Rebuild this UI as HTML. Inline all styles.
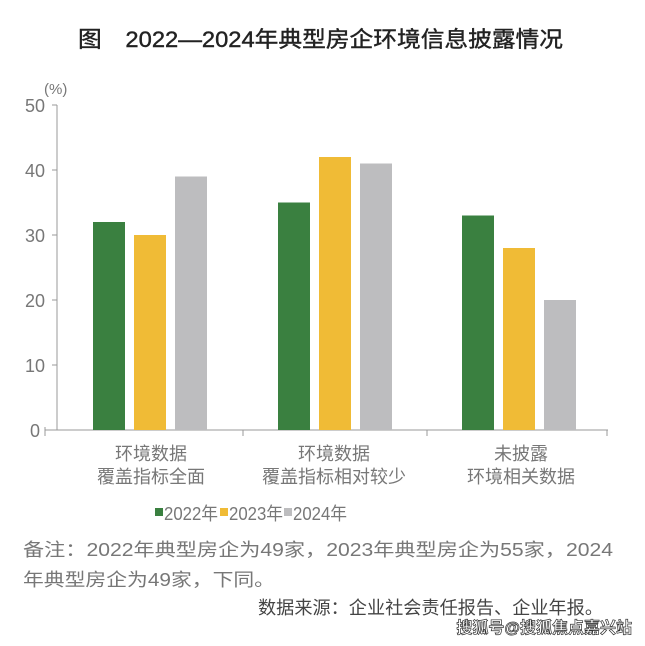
<!DOCTYPE html>
<html><head><meta charset="utf-8"><style>
body{margin:0;background:#fff;}
svg text{font-family:"Liberation Sans","Noto Sans CJK SC",sans-serif;}
</style></head><body>
<svg width="645" height="641" xmlns="http://www.w3.org/2000/svg">
<rect width="645" height="641" fill="#fff"/>
<text x="78" y="47" font-size="22" textLength="485" lengthAdjust="spacingAndGlyphs" fill="#222" stroke="#222" stroke-width="0.4" font-family="'Liberation Serif','Noto Serif CJK SC',serif">图　2022—2024年典型房企环境信息披露情况</text>
<text x="44" y="94" font-size="15" fill="#777">(%)</text>
<g font-size="18" fill="#777" text-anchor="end">
<text x="45" y="112">50</text><text x="45" y="177">40</text><text x="45" y="242">30</text><text x="45" y="307">20</text><text x="45" y="372">10</text><text x="40" y="437">0</text>
</g>
<g stroke="#999" stroke-width="1">
<line x1="57" y1="105" x2="57" y2="430"/>
<line x1="52" y1="105" x2="57" y2="105"/><line x1="52" y1="170" x2="57" y2="170"/><line x1="52" y1="235" x2="57" y2="235"/><line x1="52" y1="300" x2="57" y2="300"/><line x1="52" y1="365" x2="57" y2="365"/>
<line x1="45" y1="430" x2="608" y2="430"/>
<line x1="45" y1="427" x2="45" y2="436"/><line x1="243" y1="430" x2="243" y2="436"/><line x1="427" y1="430" x2="427" y2="436"/><line x1="607" y1="430" x2="607" y2="436"/>
</g>
<g>
<rect x="93" y="222" width="32" height="208" fill="#3a8040"/>
<rect x="134" y="235" width="32" height="195" fill="#f0bb36"/>
<rect x="175" y="176.5" width="32" height="253.5" fill="#bdbdbf"/>
<rect x="278" y="202.5" width="32" height="227.5" fill="#3a8040"/>
<rect x="319" y="157" width="32" height="273" fill="#f0bb36"/>
<rect x="360" y="163.5" width="32" height="266.5" fill="#bdbdbf"/>
<rect x="462" y="215.5" width="32" height="214.5" fill="#3a8040"/>
<rect x="503" y="248" width="32" height="182" fill="#f0bb36"/>
<rect x="544" y="300" width="32" height="130" fill="#bdbdbf"/>
</g>
<g font-size="18" fill="#777" text-anchor="middle">
<text x="151" y="460">环境数据</text><text x="151" y="483">覆盖指标全面</text>
<text x="334" y="460">环境数据</text><text x="334" y="483">覆盖指标相对较少</text>
<text x="521" y="460">未披露</text><text x="521" y="483">环境相关数据</text>
</g>
<rect x="155" y="508" width="8" height="8" fill="#3a8040"/>
<rect x="220" y="508" width="8" height="8" fill="#f0bb36"/>
<rect x="284" y="508" width="8" height="8" fill="#bdbdbf"/>
<g font-size="18" fill="#777">
<text x="164" y="520" textLength="54" lengthAdjust="spacingAndGlyphs">2022年</text><text x="229" y="520" textLength="54" lengthAdjust="spacingAndGlyphs">2023年</text><text x="293" y="520" textLength="54" lengthAdjust="spacingAndGlyphs">2024年</text>
<text x="23" y="556" textLength="590" lengthAdjust="spacingAndGlyphs">备注：2022年典型房企为49家，2023年典型房企为55家，2024</text>
<text x="23" y="586" textLength="252" lengthAdjust="spacingAndGlyphs">年典型房企为49家，下同。</text>
</g>
<text x="258" y="614" font-size="18" fill="#444" textLength="345" lengthAdjust="spacingAndGlyphs">数据来源：企业社会责任报告、企业年报。</text>
<text x="632" y="633" font-size="16" font-weight="bold" fill="#fff" stroke="#333" stroke-width="0.7" text-anchor="end">搜狐号@搜狐焦点嘉兴站</text>
</svg>
</body></html>
